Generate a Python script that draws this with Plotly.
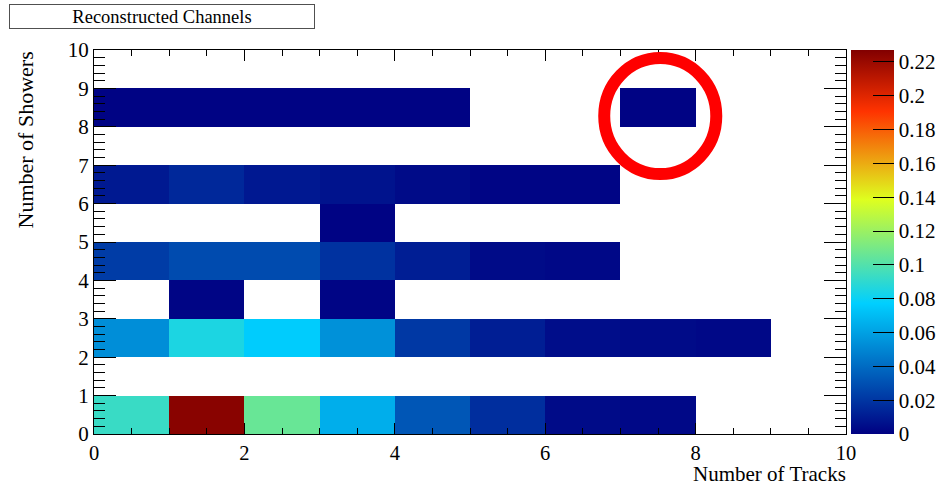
import plotly.graph_objects as go

# ---- data (bin contents, fraction of events) ----
x_centers = [0.5, 1.5, 2.5, 3.5, 4.5, 5.5, 6.5, 7.5, 8.5, 9.5]
y_centers = [0.5, 1.5, 2.5, 3.5, 4.5, 5.5, 6.5, 7.5, 8.5, 9.5]

row_sh0 = [0.093, 0.225, 0.106, 0.065, 0.032, 0.017, 0.004, 0.003, None, None]
row_sh1 = [None] * 10
row_sh2 = [0.053, 0.085, 0.076, 0.054, 0.021, 0.011, 0.005, 0.004, 0.003, None]
row_sh3 = [None, 0.002, None, 0.002, None, None, None, None, None, None]
row_sh4 = [0.0225, 0.028, 0.028, 0.0186, 0.011, 0.004, 0.003, None, None, None]
row_sh5 = [None, None, None, 0.001, None, None, None, None, None, None]
row_sh6 = [0.0093, 0.015, 0.009, 0.007, 0.004, 0.002, 0.002, None, None, None]
row_sh7 = [None] * 10
row_sh8 = [0.001, 0.001, 0.001, 0.001, 0.001, None, None, 0.001, None, None]
row_sh9 = [None] * 10

z_max = 0.227
cbar_tickvals = [0, 0.02, 0.04, 0.06, 0.08, 0.1, 0.12, 0.14, 0.16, 0.18, 0.2, 0.22]
cbar_ticktext = ["0", "0.02", "0.04", "0.06", "0.08", "0.1", "0.12", "0.14",
                 "0.16", "0.18", "0.2", "0.22"]
x_tickvals = [0, 2, 4, 6, 8, 10]
y_tickvals = [0, 1, 2, 3, 4, 5, 6, 7, 8, 9, 10]

title_text = "Reconstructed Channels"
x_title = "Number of Tracks"
y_title = "Number of Showers"

# circle highlight (data coords)
circle_cx, circle_cy = 7.53, 8.28
circle_rx, circle_ry = 0.745, 1.51

z = [row_sh0, row_sh1, row_sh2, row_sh3, row_sh4,
     row_sh5, row_sh6, row_sh7, row_sh8, row_sh9]

FONT = "Liberation Serif"

colorscale = [
    [0.0, "rgb(0,0,130)"],
    [0.34, "rgb(0,207,255)"],
    [0.61, "rgb(222,255,31)"],
    [0.84, "rgb(255,51,0)"],
    [1.0, "rgb(130,0,0)"],
]

L, R, T, B = 94, 96, 50, 52
W, H = 942, 486
pw = W - L - R
ph = H - T - B

fig = go.Figure()
fig.add_trace(go.Heatmap(
    x=x_centers, y=y_centers, z=z,
    zmin=0, zmax=z_max,
    colorscale=colorscale,
    hoverongaps=False,
    colorbar=dict(
        x=(851 - L) / pw, xanchor="left", xpad=0,
        y=0.5, yanchor="middle", ypad=0,
        len=1, lenmode="fraction",
        thickness=43, thicknessmode="pixels",
        outlinewidth=0,
        tickvals=cbar_tickvals, ticktext=cbar_ticktext,
        ticks="inside", ticklen=21, tickcolor="black", tickwidth=1,
        tickfont=dict(family=FONT, size=21, color="black"),
    ),
))

fig.add_shape(type="circle", xref="x", yref="y",
              x0=circle_cx - circle_rx, x1=circle_cx + circle_rx,
              y0=circle_cy - circle_ry, y1=circle_cy + circle_ry,
              line=dict(color="rgb(255,0,0)", width=12), layer="above")

fig.update_layout(
    width=W, height=H,
    margin=dict(l=L, r=R, t=T, b=B, pad=0, autoexpand=False),
    paper_bgcolor="white", plot_bgcolor="white",
    font=dict(family=FONT, color="black"),
    showlegend=False,
    xaxis=dict(
        range=[0, 10], tickvals=x_tickvals, showgrid=False, zeroline=False,
        showline=True, linecolor="black", linewidth=1, mirror="ticks",
        ticks="inside", ticklen=11, tickcolor="black",
        minor=dict(dtick=0.5, ticks="inside", ticklen=6, tickcolor="black", showgrid=False),
        tickfont=dict(family=FONT, size=20.5, color="black"),
    ),
    yaxis=dict(
        range=[0, 10], tickvals=y_tickvals, showgrid=False, zeroline=False,
        showline=True, linecolor="black", linewidth=1, mirror="ticks",
        ticks="inside", ticklen=22, tickcolor="black",
        minor=dict(dtick=0.2, ticks="inside", ticklen=11, tickcolor="black", showgrid=False),
        tickfont=dict(family=FONT, size=21, color="black"),
    ),
    annotations=[
        dict(text=title_text, xref="paper", yref="paper",
             x=(162 - L) / pw, y=(H - B - 16.7) / ph,
             xanchor="center", yanchor="middle", showarrow=False,
             width=304, height=23, borderpad=0,
             bordercolor="rgb(80,80,80)", borderwidth=1, bgcolor="white",
             font=dict(family=FONT, size=18.5, color="black")),
        dict(text=x_title, xref="paper", yref="paper",
             x=(848 - L) / pw, y=-(474 - (H - B)) / ph,
             xanchor="right", yanchor="middle", showarrow=False,
             font=dict(family=FONT, size=21, color="black")),
        dict(text=y_title, xref="paper", yref="paper",
             x=(25 - L) / pw, y=1.0,
             xanchor="center", yanchor="top", textangle=-90, showarrow=False,
             font=dict(family=FONT, size=22, color="black")),
    ],
)

fig.write_html("out.html",
               config={"displayModeBar": False},
               post_script="document.body.style.margin='0';document.body.style.padding='0';")
